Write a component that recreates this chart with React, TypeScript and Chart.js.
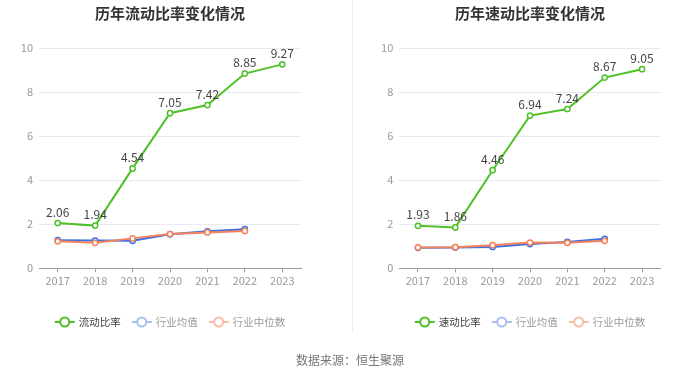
import React, { useEffect, useRef } from "react";
import { Chart, registerables } from "chart.js";

Chart.register(...registerables);

const years = ["2017", "2018", "2019", "2020", "2021", "2022", "2023"];
const currentRatio = [2.06, 1.94, 4.54, 7.05, 7.42, 8.85, 9.27];
const currentIndustryMean = [1.28, 1.26, 1.25, 1.55, 1.68, 1.78, null];
const currentIndustryMedian = [1.23, 1.16, 1.36, 1.56, 1.63, 1.70, null];
const quickRatio = [1.93, 1.86, 4.46, 6.94, 7.24, 8.67, 9.05];
const quickIndustryMean = [0.93, 0.94, 0.97, 1.1, 1.2, 1.34, null];
const quickIndustryMedian = [0.95, 0.96, 1.05, 1.17, 1.16, 1.25, null];
const yTicks = [0, 2, 4, 6, 8, 10];

const FONT = '"Noto Sans CJK SC", "Noto Sans", sans-serif';
const GREEN = "#4fc128";
const BLUE = "#3b6fe3";
const ORANGE = "#f4825a";
const LEGEND_COLORS = [GREEN, "#a7bff3", "#f8bea6"];
const LEGEND_TEXT = ["#444", "#999", "#999"];

type PanelProps = {
  title: string;
  names: string[];
  main: number[];
  mean: (number | null)[];
  median: (number | null)[];
  yWidth: number;
  rightPad: number;
};

function Panel({ title, names, main, mean, median, yWidth, rightPad }: PanelProps) {
  const ref = useRef<HTMLCanvasElement | null>(null);
  useEffect(() => {
    if (!ref.current) return;
    const deco = {
      id: "deco",
      afterDatasetsDraw(chart: any) {
        const ctx = chart.ctx;
        const meta = chart.getDatasetMeta(0);
        ctx.save();
        ctx.font = `12px ${FONT}`;
        ctx.fillStyle = "#444";
        ctx.textAlign = "center";
        ctx.textBaseline = "middle";
        meta.data.forEach((pt: any, i: number) => {
          const v = main[i];
          if (v == null) return;
          ctx.fillText(v.toFixed(2), pt.x, pt.y - 11);
        });
        ctx.restore();
      },
      afterDraw(chart: any) {
        const ctx = chart.ctx;
        const area = chart.chartArea;
        const cx = (area.left + area.right) / 2;
        ctx.save();
        ctx.font = `bold 15px ${FONT}`;
        ctx.fillStyle = "#333";
        ctx.textAlign = "center";
        ctx.textBaseline = "middle";
        ctx.fillText(title, cx, 13);
        // legend
        ctx.font = `10.5px ${FONT}`;
        const sym = 20;
        const gap = 4;
        const spacing = 11;
        const widths = names.map((n) => sym + gap + ctx.measureText(n).width);
        const total = widths.reduce((a, b) => a + b, 0) + spacing * (names.length - 1);
        let x = cx - total / 2;
        const y = 322;
        names.forEach((n, i) => {
          const c = LEGEND_COLORS[i];
          ctx.strokeStyle = c;
          ctx.lineWidth = 2;
          ctx.beginPath();
          ctx.moveTo(x, y);
          ctx.lineTo(x + sym, y);
          ctx.stroke();
          ctx.beginPath();
          ctx.arc(x + sym / 2, y, 4.5, 0, Math.PI * 2);
          ctx.fillStyle = "#fff";
          ctx.fill();
          ctx.stroke();
          ctx.fillStyle = LEGEND_TEXT[i];
          ctx.textAlign = "left";
          ctx.fillText(n, x + sym + gap, y);
          x += widths[i] + spacing;
        });
        ctx.restore();
      },
    };
    const pointCfg = (color: string) => ({
      borderColor: color,
      backgroundColor: "#fff",
      pointBackgroundColor: "#fff",
      pointBorderColor: color,
      pointRadius: 2.6,
      pointBorderWidth: 1.5,
      borderWidth: 2,
      tension: 0,
      spanGaps: false,
    });
    const chart = new Chart(ref.current, {
      type: "line",
      data: {
        labels: years,
        datasets: [
          { label: names[0], data: main, ...pointCfg(GREEN), order: 0 },
          { label: names[1], data: mean, ...pointCfg(BLUE), order: 2 },
          { label: names[2], data: median, ...pointCfg(ORANGE), order: 1 },
        ],
      },
      options: {
        responsive: false,
        animation: false,
        layout: { padding: { top: 48.3, left: 0, right: rightPad, bottom: 378 - 268.3 - 24 } },
        plugins: {
          legend: { display: false },
          title: { display: false },
          tooltip: { enabled: false },
        },
        scales: {
          x: {
            offset: true,
            afterFit: (s: any) => {
              s.height = 24;
            },
            grid: {
              drawOnChartArea: false,
              drawTicks: true,
              tickLength: 4,
              color: "#999",
              offset: false,
            },
            border: { display: true, color: "#999", width: 1 },
            ticks: { color: "#999", font: { size: 11, family: FONT }, padding: 2 },
          },
          y: {
            min: 0,
            max: 10,
            afterFit: (s: any) => {
              s.width = yWidth;
            },
            afterBuildTicks: (s: any) => {
              s.ticks = yTicks.map((v) => ({ value: v }));
            },
            grid: { color: "#e6eaf3", drawTicks: false, lineWidth: 1 },
            border: { display: false },
            ticks: { color: "#999", font: { size: 11, family: FONT }, padding: 6 },
          },
        },
      },
      plugins: [deco],
    } as any);
    return () => chart.destroy();
  }, []);
  return <canvas ref={ref} width={350} height={378} style={{ display: "block", width: 350, height: 378 }} />;
}

export default function App() {
  return (
    <div
      style={{
        position: "fixed",
        left: 0,
        top: 0,
        width: 700,
        height: 378,
        background: "#fff",
        overflow: "hidden",
      }}
    >
      <div style={{ position: "absolute", left: 0, top: 0 }}>
        <Panel
          title="历年流动比率变化情况"
          names={["流动比率", "行业均值", "行业中位数"]}
          main={currentRatio}
          mean={currentIndustryMean}
          median={currentIndustryMedian}
          yWidth={39}
          rightPad={49}
        />
      </div>
      <div style={{ position: "absolute", left: 350, top: 0 }}>
        <Panel
          title="历年速动比率变化情况"
          names={["速动比率", "行业均值", "行业中位数"]}
          main={quickRatio}
          mean={quickIndustryMean}
          median={quickIndustryMedian}
          yWidth={49.3}
          rightPad={39.3}
        />
      </div>
      <div
        style={{ position: "absolute", left: 352, top: 0, width: 1, height: 333, background: "#eeeeee" }}
      />
      <div
        style={{
          position: "absolute",
          left: 0,
          top: 352,
          width: 700,
          textAlign: "center",
          font: `12px ${FONT}`,
          color: "#777",
          lineHeight: "16px",
        }}
      >
        数据来源：恒生聚源
      </div>
    </div>
  );
}
